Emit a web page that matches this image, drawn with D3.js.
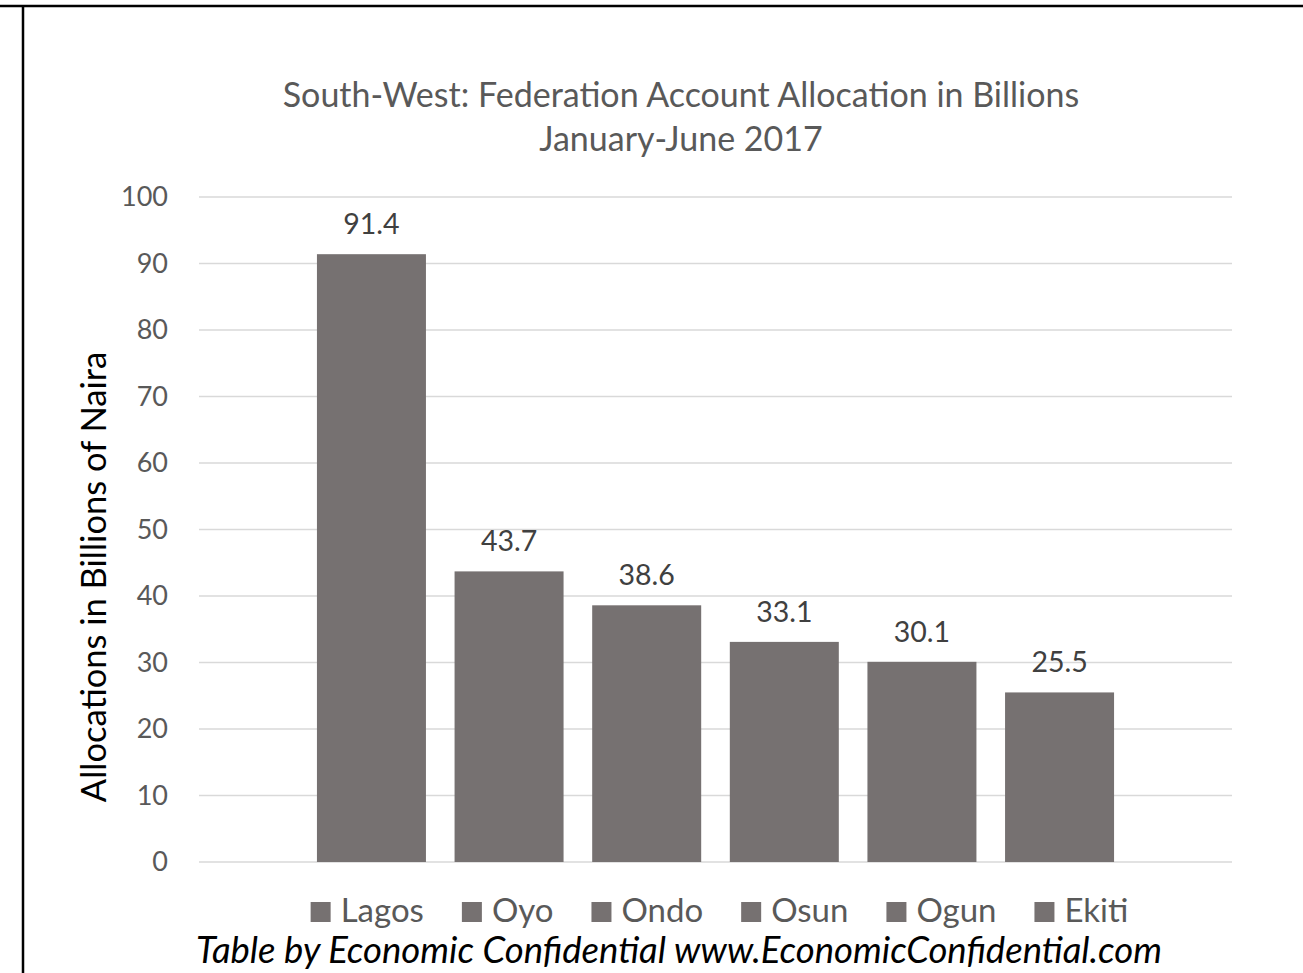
<!DOCTYPE html>
<html>
<head>
<meta charset="utf-8">
<script src="https://cdn.jsdelivr.net/npm/d3@7"></script>
<style>
  html, body { margin: 0; padding: 0; background: #fff; }
  svg { display: block; font-family: Lato, "Open Sans", sans-serif; }
</style>
</head>
<body>
<div id="chart"></div>
<script>
const states = ['Lagos', 'Oyo', 'Ondo', 'Osun', 'Ogun', 'Ekiti'];
const allocations = [91.4, 43.7, 38.6, 33.1, 30.1, 25.5];
const yTicks = [0, 10, 20, 30, 40, 50, 60, 70, 80, 90, 100];
const titleLines = ['South-West: Federation Account Allocation in Billions', 'January-June 2017'];
const yTitle = 'Allocations in Billions of Naira';
const footer = 'Table by Economic Confidential www.EconomicConfidential.com';

const width = 1303;
const height = 973;
const plot = { left: 199, right: 1232, top: 197, bottom: 862 };
const barColor = '#767171';

const svg = d3.select('#chart').append('svg')
    .attr('width', width)
    .attr('height', height);

// outer frame (only top and left visible in the crop)
svg.append('line')
    .attr('x1', 0).attr('x2', width).attr('y1', 6).attr('y2', 6)
    .attr('stroke', '#000').attr('stroke-width', 2.5);
svg.append('line')
    .attr('x1', 23).attr('x2', 23).attr('y1', 6).attr('y2', height)
    .attr('stroke', '#000').attr('stroke-width', 2.5);

const y = d3.scaleLinear().domain([0, 100]).range([plot.bottom, plot.top]);
const x = d3.scaleBand()
    .domain(states)
    .range([plot.left, plot.right])
    .paddingInner(0.208)
    .paddingOuter(0.857);

// gridlines
svg.append('g')
  .selectAll('line')
  .data(yTicks)
  .join('line')
    .attr('x1', plot.left)
    .attr('x2', plot.right)
    .attr('y1', d => y(d))
    .attr('y2', d => y(d))
    .attr('stroke', '#d9d9d9')
    .attr('stroke-width', 1.5);

// y tick labels
svg.append('g')
    .attr('fill', '#595959')
    .attr('font-size', 27)
    .attr('text-anchor', 'end')
  .selectAll('text')
  .data(yTicks)
  .join('text')
    .attr('x', 168)
    .attr('y', d => y(d))
    .attr('dy', '0.35em')
    .text(d => d);

// bars
svg.append('g')
  .selectAll('rect')
  .data(states)
  .join('rect')
    .attr('x', d => x(d))
    .attr('width', x.bandwidth())
    .attr('y', (d, i) => y(allocations[i]))
    .attr('height', (d, i) => y(0) - y(allocations[i]))
    .attr('fill', barColor);

// value labels
svg.append('g')
    .attr('fill', '#404040')
    .attr('font-size', 28.5)
    .attr('text-anchor', 'middle')
  .selectAll('text')
  .data(states)
  .join('text')
    .attr('x', d => x(d) + x.bandwidth() / 2)
    .attr('y', (d, i) => y(allocations[i]) - 20)
    .text((d, i) => allocations[i].toFixed(1));

// title
svg.append('g')
    .attr('fill', '#595959')
    .attr('font-size', 34)
    .attr('text-anchor', 'middle')
  .selectAll('text')
  .data(titleLines)
  .join('text')
    .attr('x', 681)
    .attr('y', (d, i) => 107 + i * 44)
    .text(d => d);

// y axis title
svg.append('text')
    .attr('transform', 'translate(106,' + 577 + ') rotate(-90)')
    .attr('text-anchor', 'middle')
    .attr('font-size', 34.5)
    .attr('fill', '#000')
    .text(yTitle);

// legend
const legend = svg.append('g').attr('font-size', 33).attr('fill', '#595959');
const items = legend.selectAll('g')
  .data(states)
  .join('g');
items.append('rect')
    .attr('width', 20)
    .attr('height', 20)
    .attr('y', -20)
    .attr('fill', barColor);
items.append('text')
    .attr('x', 30)
    .attr('y', 0)
    .text(d => d);
let offset = 0;
const offsets = [];
items.each(function () {
  offsets.push(offset);
  offset += 30 + this.querySelector('text').getComputedTextLength() + 38;
});
const legendWidth = offset - 38;
const legendX = (plot.left + plot.right) / 2 + 4 - legendWidth / 2;
items.attr('transform', (d, i) => 'translate(' + (legendX + offsets[i]) + ',922)');

// footer
svg.append('text')
    .attr('x', 679)
    .attr('y', 963)
    .attr('text-anchor', 'middle')
    .attr('font-size', 36.5)
    .attr('font-style', 'italic')
    .attr('fill', '#000')
    .text(footer);
</script>
</body>
</html>
